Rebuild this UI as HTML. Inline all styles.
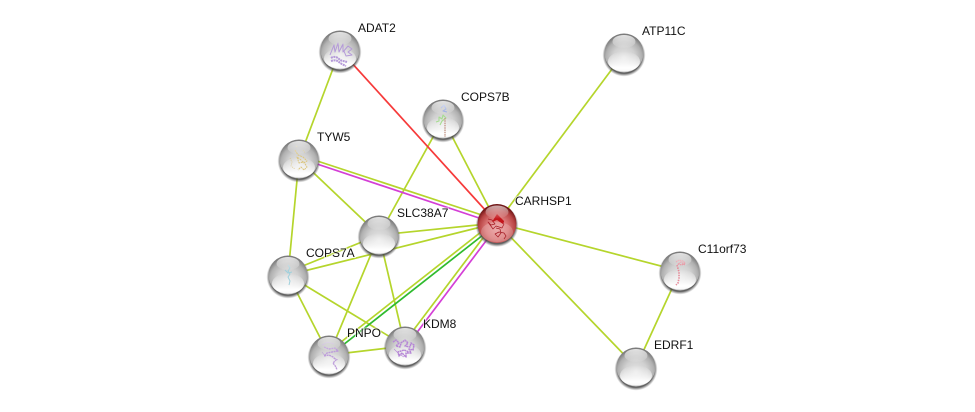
<!DOCTYPE html>
<html><head><meta charset="utf-8"><style>
html,body{margin:0;padding:0;background:#fff;width:975px;height:412px;overflow:hidden}
svg{display:block}
text{font-family:"Liberation Sans",sans-serif;font-size:12px;fill:#111;paint-order:stroke;stroke:rgba(255,255,255,.6);stroke-width:2px}
.y{stroke:#b5d52c;stroke-width:1.7;fill:none}
.s{filter:url(#b);fill:none;stroke-linejoin:round}
</style></head><body>
<svg width="975" height="412" viewBox="0 0 975 412" xmlns="http://www.w3.org/2000/svg">
<defs>
<filter id="b" x="-20%" y="-20%" width="140%" height="140%"><feGaussianBlur stdDeviation=".35"/></filter>
<radialGradient id="g" cx="50%" cy="62%" r="58%">
<stop offset="0" stop-color="#e6e6e6"/><stop offset=".5" stop-color="#d0d0d0"/><stop offset=".8" stop-color="#b0b0b0"/><stop offset="1" stop-color="#7c7c7c"/>
</radialGradient>
<radialGradient id="r" cx="50%" cy="62%" r="58%">
<stop offset="0" stop-color="#e99a9a"/><stop offset=".5" stop-color="#d97474"/><stop offset=".8" stop-color="#b84444"/><stop offset="1" stop-color="#701515"/>
</radialGradient>
<linearGradient id="hi" x1="0" y1="0" x2="0" y2="1">
<stop offset="0" stop-color="#fff" stop-opacity=".8"/><stop offset="1" stop-color="#fff" stop-opacity=".05"/>
</linearGradient>
<linearGradient id="lo" x1="0" y1="0" x2="0" y2="1">
<stop offset="0" stop-color="#fff" stop-opacity="0"/><stop offset=".8" stop-color="#fff" stop-opacity="1"/><stop offset="1" stop-color="#fff" stop-opacity=".9"/>
</linearGradient>
<radialGradient id="sh" cx="50%" cy="50%" r="50%">
<stop offset=".86" stop-color="#444" stop-opacity=".85"/><stop offset="1" stop-color="#666" stop-opacity="0"/>
</radialGradient>
<g id="base"><circle cx="0" cy="2" r="21.5" fill="url(#sh)"/><circle r="19.5" fill="url(#g)"/><ellipse cy="8.5" rx="16" ry="10" fill="url(#lo)"/></g>
<g id="top"><ellipse cy="-11.5" rx="11.5" ry="6.5" fill="url(#hi)"/></g>
<g id="baser"><circle cx="0" cy="2" r="21.5" fill="url(#sh)"/><circle r="19.5" fill="url(#r)"/><ellipse cy="8.5" rx="16" ry="10" fill="#fff" fill-opacity=".2"/></g>
</defs>

<!-- edges -->
<g class="y">
<line x1="340" y1="50" x2="299" y2="159"/>
<line x1="443" y1="119" x2="497" y2="223"/>
<line x1="443" y1="119" x2="379" y2="235"/>
<line x1="624" y1="53" x2="497" y2="223"/>
<line x1="299" y1="155" x2="497" y2="220"/>
<line x1="299" y1="159" x2="379" y2="235"/>
<line x1="299" y1="159" x2="288" y2="275"/>
<line x1="379" y1="235" x2="497" y2="223"/>
<line x1="288" y1="272" x2="379" y2="235"/>
<line x1="288" y1="275" x2="497" y2="223"/>
<line x1="379" y1="235" x2="329" y2="355"/>
<line x1="379" y1="235" x2="405" y2="346"/>
<line x1="288" y1="275" x2="329" y2="355"/>
<line x1="288" y1="275" x2="405" y2="346"/>
<line x1="329" y1="355" x2="405" y2="346"/>
<line x1="327" y1="353" x2="495" y2="221"/>
<line x1="403" y1="344" x2="495" y2="222"/>
<line x1="497" y1="223" x2="680" y2="271"/>
<line x1="497" y1="223" x2="636" y2="367"/>
<line x1="680" y1="271" x2="636" y2="367"/>
</g>
<line x1="340" y1="50" x2="497" y2="223" stroke="#f63a3a" stroke-width="1.7"/>
<line x1="299" y1="158" x2="497" y2="224" stroke="#d43fd6" stroke-width="1.7"/>
<line x1="329" y1="356" x2="497" y2="224" stroke="#2fbb2f" stroke-width="1.7"/>
<line x1="406" y1="347" x2="498" y2="225" stroke="#d43fd6" stroke-width="1.7"/>

<!-- nodes -->
<use href="#base" x="340" y="50"/>
<g class="s" stroke="#b49ad8">
<path d="M330 55l4-10 1 7 3-9 1 9 4-8v8l5-6 4 3-4 3 4 3-6 1-2-5" stroke-width="1"/>
<path d="M331 58c3-2 6-1 8 1s5 2 8 3M331 61c3-1 6-1 8 1s5 3 7 4" stroke-width="2" stroke-dasharray="2 .6"/>
</g>
<use href="#top" x="340" y="50"/>

<use href="#base" x="443" y="119"/>
<g class="s" stroke-width="1.1">
<path d="M441 108l3-3 2 4-3 2 4 1" stroke="#8a9ee0"/>
<path d="M436 122l3-1v-4l3 2 1-4 3 3-4 3-2 4" stroke="#a6dd90"/>
<path d="M445 118v19" stroke="#c49a8c" stroke-width="1.4" stroke-dasharray="1.5 .8"/>
</g>
<use href="#top" x="443" y="119"/>

<use href="#base" x="299" y="159"/>
<g class="s" stroke="#dcc67e" stroke-width="1">
<path d="M295 150l3 5 5 2 4 4-3 2-3-3-4-3 2 6 5-1 3 5-3 3-3-3-3 3" stroke-dasharray="2 .7"/>
<path d="M290 158l2 4-1 4 4 3M296 146l2 1M303 150l2 3" stroke-width=".7" stroke-dasharray="1 1"/>
</g>
<use href="#top" x="299" y="159"/>

<use href="#base" x="379" y="235"/>
<use href="#top" x="379" y="235"/>

<use href="#base" x="288" y="275"/>
<path class="s" d="M288 265l2 3-2 3 2 3-2 3 2 4-1 4M285 270l3 3 4-1" stroke="#9fd0dc" stroke-width="1"/>
<use href="#top" x="288" y="275"/>

<use href="#base" x="329" y="355"/>
<g class="s" stroke="#bd9cdb">
<path d="M324 347l5 2 6-1 3 3-6 1-5 1-3 3 5-1 4 2 3 3-3 3 3 4 1 3" stroke-width="1.4" stroke-dasharray="2 .6"/>
<path d="M322 345l6-3 6 2M322 352l3 4M334 358l4 2" stroke-width=".6"/>
</g>
<use href="#top" x="329" y="355"/>

<use href="#base" x="405" y="346"/>
<g class="s" stroke="#b585d6">
<path d="M393 342l3-2 3 3-3 3 4 1 1-4 4-3 3 3-3 3 5 1 1-4 3 2-1 5-4-1 2 4-5 0 0 4-4-4-3 3-1-4 6-2 5 2" stroke-width="1.5" stroke-dasharray="2 .5"/>
<path d="M394 349l5 5 5 3" stroke-width=".6"/>
</g>
<use href="#top" x="405" y="346"/>

<use href="#base" x="624" y="53"/>
<use href="#top" x="624" y="53"/>

<use href="#base" x="680" y="271"/>
<g class="s" stroke="#e58a98">
<path d="M676 262l3-2 4 1 2 2-3 2-4-1 3-2 4 3" stroke-width="1.2" stroke-dasharray="1.5 .6"/>
<path d="M677 265l2 7 0 6-1 5-2 2" stroke-width="1.6" stroke-dasharray="1.5 1"/>
</g>
<use href="#top" x="680" y="271"/>

<use href="#base" x="636" y="367"/>
<use href="#top" x="636" y="367"/>

<use href="#baser" x="497" y="223.5"/>
<g class="s" stroke="#a51c25" stroke-width=".7">
<path d="M488 219l4 1 3 4-4 1-3-3 5 7 3-3 6 2 2-4-5-3 5 1"/>
<path d="M496 228l4 1 1 4-3 4-3-3 4-2 5 1 2 3-2 3"/>
<path d="M497 214l-5 8 5-2 6 4 1-3z" fill="#c4131b" stroke="none"/>
</g>
<ellipse cx="497" cy="212" rx="11.5" ry="6.5" fill="url(#hi)" opacity=".8"/>

<!-- labels -->
<text x="358" y="32">ADAT2</text>
<text x="642" y="35">ATP11C</text>
<text x="461" y="101">COPS7B</text>
<text x="317" y="141">TYW5</text>
<text x="515" y="205">CARHSP1</text>
<text x="397" y="217">SLC38A7</text>
<text x="306" y="257">COPS7A</text>
<text x="698" y="253">C11orf73</text>
<text x="423" y="328">KDM8</text>
<text x="347" y="337">PNPO</text>
<text x="654" y="349">EDRF1</text>
</svg>
</body></html>
